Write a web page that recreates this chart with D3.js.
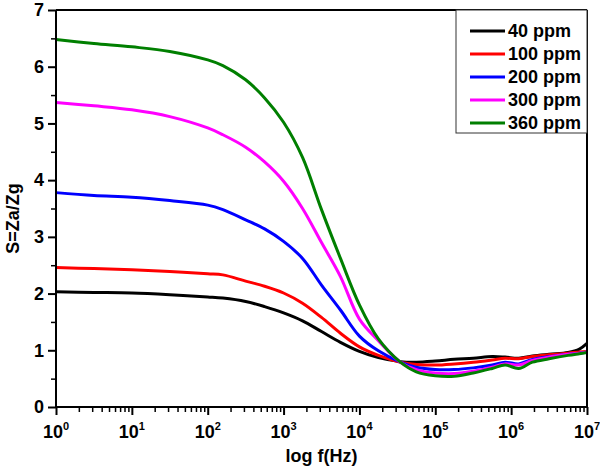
<!DOCTYPE html>
<html><head><meta charset="utf-8">
<script src="https://cdn.jsdelivr.net/npm/d3@7"></script>
<style>body{margin:0;background:#fff}svg{display:block}</style>
</head><body>
<svg id="c" width="600" height="468"></svg>
<script>
const seriesNames = ["40 ppm","100 ppm","200 ppm","300 ppm","360 ppm"];
const seriesColors = ["#000000","#ff0000","#0000ff","#ff00ff","#007f00"];
const logF = [0,0.5,1,1.5,2,2.2,2.5,2.75,3,3.25,3.5,3.75,4,4.25,4.54,4.75,5,5.25,5.5,5.75,5.92,6.1,6.28,6.5,6.75,6.9,7];
const s40  = [2.03,2.02,2.01,1.98,1.94,1.92,1.86,1.77,1.66,1.52,1.33,1.14,0.98,0.87,0.80,0.79,0.81,0.84,0.86,0.89,0.88,0.86,0.90,0.93,0.96,1.02,1.12];
const s100 = [2.46,2.44,2.42,2.39,2.35,2.33,2.22,2.13,2.01,1.83,1.58,1.30,1.06,0.91,0.79,0.75,0.74,0.76,0.79,0.83,0.86,0.85,0.89,0.92,0.95,0.97,0.98];
const s200 = [3.78,3.73,3.70,3.64,3.56,3.48,3.30,3.14,2.92,2.62,2.15,1.71,1.25,0.99,0.79,0.70,0.66,0.66,0.69,0.74,0.79,0.76,0.84,0.89,0.93,0.95,0.97];
const s300 = [5.37,5.31,5.24,5.12,4.92,4.80,4.58,4.32,3.98,3.50,2.90,2.30,1.55,1.17,0.79,0.66,0.60,0.59,0.63,0.70,0.76,0.74,0.82,0.88,0.93,0.95,0.97];
const s360 = [6.48,6.41,6.35,6.27,6.12,6.02,5.77,5.45,5.02,4.40,3.48,2.62,1.80,1.20,0.79,0.62,0.55,0.54,0.60,0.68,0.74,0.68,0.79,0.85,0.91,0.94,0.96];
const seriesValues = [s40,s100,s200,s300,s360];
const xTickExps = [0,1,2,3,4,5,6,7];
const yTicks = [0,1,2,3,4,5,6,7];
const xLabel = "log f(Hz)";
const yLabel = "S=Za/Zg";

const svg = d3.select("#c");
const L = 56, R = 587, T = 10, B = 407;
const x = d3.scaleLog().domain([1,1e7]).range([L,R]);
const y = d3.scaleLinear().domain([0,7]).range([B,T]);
const font = "'Liberation Sans', Arial, sans-serif";
const FS = 18;

// series
const line = d3.line().x(d=>x(d[0])).y(d=>y(d[1])).curve(d3.curveCatmullRom.alpha(0.5));
seriesValues.forEach((vals,i)=>{
  const pts = logF.map((e,j)=>[Math.pow(10,e), vals[j]]);
  svg.append("path").attr("d", line(pts)).attr("fill","none")
    .attr("stroke", seriesColors[i]).attr("stroke-width",3).attr("stroke-linejoin","round");
});

// frame
svg.append("line").attr("x1",L).attr("x2",R).attr("y1",T).attr("y2",T).attr("stroke","#000").attr("stroke-width",2);
svg.append("line").attr("x1",R).attr("x2",R).attr("y1",T).attr("y2",B).attr("stroke","#000").attr("stroke-width",2);

// x axis
const xMinor = x.ticks().filter(v=>Math.abs(Math.log10(v)-Math.round(Math.log10(v)))>1e-6);
const gx = svg.append("g").attr("transform",`translate(0,${B})`);
gx.call(d3.axisBottom(x).tickValues(xMinor).tickSize(5).tickFormat(""));
gx.select(".domain").remove();
gx.selectAll("line").attr("stroke-width",1.5);
const gx2 = svg.append("g").attr("transform",`translate(0,${B})`);
gx2.call(d3.axisBottom(x).tickValues(xTickExps.map(e=>Math.pow(10,e))).tickSize(8).tickFormat(""));
gx2.selectAll("line").attr("stroke-width",2);
gx2.select(".domain").attr("stroke-width",2).attr("d",`M${L},0H${R}`);
xTickExps.forEach(e=>{
  const t = svg.append("text").attr("x", x(Math.pow(10,e))).attr("y", 438)
    .attr("text-anchor","middle").attr("font-family",font).attr("font-weight","bold").attr("font-size",FS);
  t.append("tspan").text("10");
  t.append("tspan").attr("dy",-8).attr("font-size",11).text(e);
});
svg.append("text").attr("x",(L+R)/2).attr("y",462).attr("text-anchor","middle")
  .attr("font-family",font).attr("font-weight","bold").attr("font-size",FS).text(xLabel);

// y axis
const gy = svg.append("g").attr("transform",`translate(${L},0)`);
gy.call(d3.axisLeft(y).tickValues(d3.range(0.5,7,1)).tickSize(5).tickFormat(""));
gy.select(".domain").remove();
gy.selectAll("line").attr("stroke-width",1.5);
const gy2 = svg.append("g").attr("transform",`translate(${L},0)`);
gy2.call(d3.axisLeft(y).tickValues(yTicks).tickSize(8).tickPadding(4).tickFormat(d3.format("d")));
gy2.selectAll("line").attr("stroke-width",2);
gy2.select(".domain").attr("stroke-width",2).attr("d",`M0,${T}V${B}`);
gy2.selectAll("text").attr("font-family",font).attr("font-weight","bold").attr("font-size",FS).attr("fill","#000");
svg.append("text").attr("transform",`translate(13,${(T+B)/2+10}) rotate(-90)`).attr("text-anchor","middle")
  .attr("dy","0.35em").attr("font-family",font).attr("font-weight","bold").attr("font-size",FS).text(yLabel);

// legend
const lg = svg.append("g");
lg.append("rect").attr("x",456).attr("y",10).attr("width",R-456).attr("height",123)
  .attr("fill","#fff").attr("stroke","#333").attr("stroke-width",1);
seriesNames.forEach((n,i)=>{
  const yy = 31 + i*23;
  lg.append("line").attr("x1",470).attr("x2",505).attr("y1",yy).attr("y2",yy)
    .attr("stroke",seriesColors[i]).attr("stroke-width",3);
  lg.append("text").attr("x",508).attr("y",yy).attr("dy","0.36em").attr("font-family",font)
    .attr("font-weight","bold").attr("font-size",FS).text(n);
});
</script>
</body></html>
